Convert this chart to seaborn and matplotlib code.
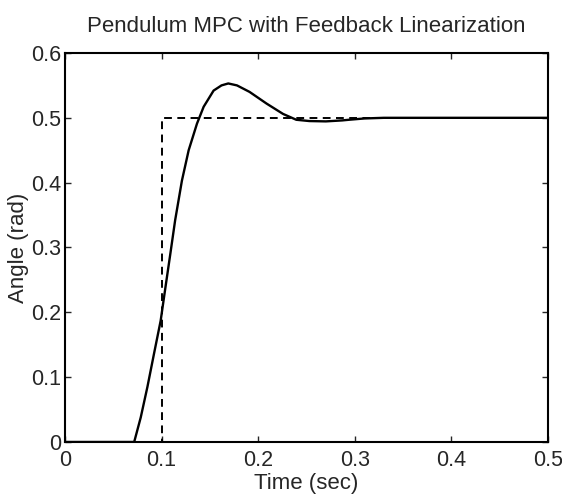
import matplotlib
matplotlib.use("Agg")
import matplotlib.pyplot as plt
import pandas as pd
import seaborn as sns

# pendulum angle response (time in sec, angle in rad)
t_resp = [0.0, 0.0716, 0.0784, 0.0853, 0.0921, 0.099, 0.104, 0.109, 0.114,
          0.121, 0.128, 0.1366, 0.1435, 0.1538, 0.162, 0.169, 0.178, 0.191,
          0.2086, 0.2257, 0.2394, 0.253, 0.270, 0.287, 0.294, 0.31, 0.33, 0.5]
angle_resp = [0.0, 0.0, 0.038, 0.085, 0.136, 0.187, 0.239, 0.290, 0.342,
              0.403, 0.450, 0.491, 0.517, 0.542, 0.550, 0.553, 0.550, 0.540,
              0.522, 0.506, 0.497, 0.495, 0.4945, 0.496, 0.497, 0.499, 0.500, 0.500]

# reference step
t_ref = [0.0, 0.1, 0.1, 0.5]
angle_ref = [0.0, 0.0, 0.5, 0.5]

x_ticks = [0, 0.1, 0.2, 0.3, 0.4, 0.5]
x_labels = ["0", "0.1", "0.2", "0.3", "0.4", "0.5"]
y_ticks = [0, 0.1, 0.2, 0.3, 0.4, 0.5, 0.6]
y_labels = ["0", "0.1", "0.2", "0.3", "0.4", "0.5", "0.6"]

sns.set_style("ticks")
plt.rcParams['font.family'] = ['Liberation Sans', 'DejaVu Sans']
plt.rcParams['xtick.direction'] = 'in'
plt.rcParams['ytick.direction'] = 'in'

df_resp = pd.DataFrame({"t": t_resp, "angle": angle_resp})
df_ref = pd.DataFrame({"t": t_ref, "angle": angle_ref})

fig = plt.figure(figsize=(5.62, 4.97), dpi=100)
ax = fig.add_axes([0.1157, 0.1107, 0.8594, 0.7827])

sns.lineplot(data=df_resp, x="t", y="angle", ax=ax, color="black",
             linewidth=1.7, sort=False, estimator=None)
sns.lineplot(data=df_ref, x="t", y="angle", ax=ax, color="black",
             linewidth=1.4, linestyle=(0, (4, 2.8)), sort=False, estimator=None)

ax.set_xlim(0, 0.5)
ax.set_ylim(0, 0.6)
ax.set_xticks(x_ticks)
ax.set_xticklabels(x_labels)
ax.set_yticks(y_ticks)
ax.set_yticklabels(y_labels)
ax.tick_params(axis='x', labelsize=15.5, length=4, width=1, pad=6,
               top=True)
ax.tick_params(axis='y', labelsize=15.5, length=4, width=1, pad=3,
               right=True)
for s in ax.spines.values():
    s.set_linewidth(1.5)
    s.set_color("black")

ax.set_xlabel("Time (sec)", fontsize=16, labelpad=1)
ax.set_ylabel("Angle (rad)", fontsize=16, labelpad=1)
ax.set_title("Pendulum MPC with Feedback Linearization", fontsize=16, pad=15)

fig.savefig("out.png", dpi=100)
